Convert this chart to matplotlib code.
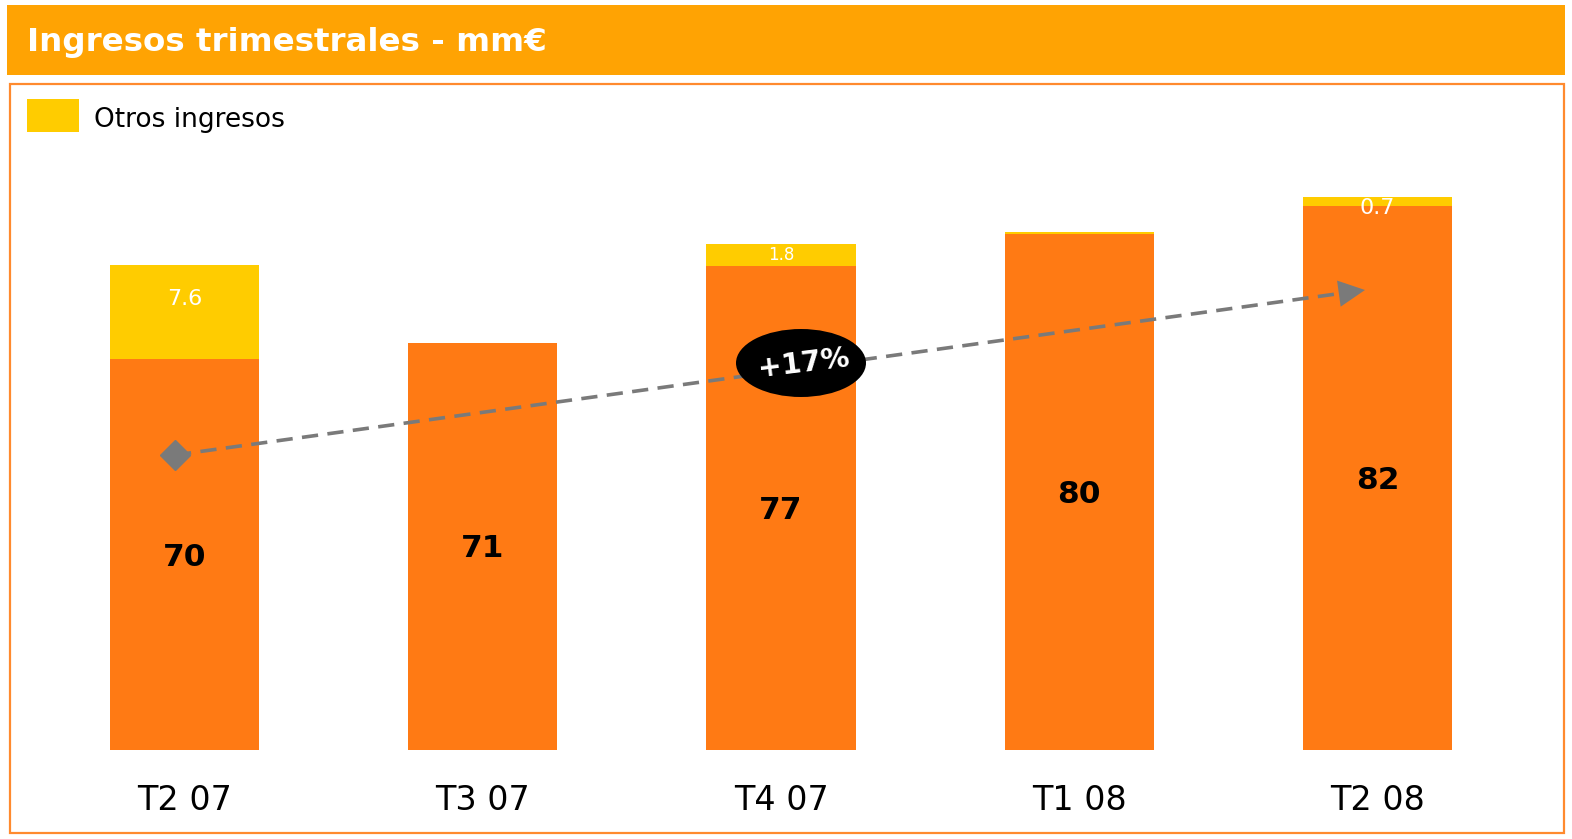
import matplotlib
matplotlib.use("Agg")
import matplotlib.pyplot as plt
from matplotlib.patches import Rectangle, Ellipse

# ---- data ----
categories = ["T2 07", "T3 07", "T4 07", "T1 08", "T2 08"]
core_income = [69.9, 71.2, 77.4, 80.0, 82.3]
core_labels = ["70", "71", "77", "80", "82"]
other_income = [7.6, 0.0, 1.8, 0.2, 0.7]
other_labels = ["7.6", "", "1.8", "", "0.7"]
other_label_sizes = [16, 0, 12, 0, 16]
growth_label = "+17%"
title = "Ingresos trimestrales - mm€"
legend_label = "Otros ingresos"

ORANGE = "#FF7A14"
YELLOW = "#FFCC00"
TITLE_BG = "#FFA303"
BORDER = "#FF8A2E"
GRAY = "#7A7A7A"

W, H = 1572, 839
fig = plt.figure(figsize=(W / 100, H / 100), dpi=100)
fig.patch.set_facecolor("white")

def fx(px):
    return px / W

def fy(py):
    return 1 - py / H

# title bar
fig.patches.append(Rectangle((fx(7), fy(75)), fx(1565) - fx(7), fy(5) - fy(75),
                             transform=fig.transFigure, facecolor=TITLE_BG, edgecolor="none", zorder=0))
fig.text(fx(27), fy(42), title, color="white", fontsize=23.4, fontweight="bold",
         va="center", ha="left", family="DejaVu Sans")
# panel border
fig.patches.append(Rectangle((fx(10), fy(833)), fx(1564) - fx(10), fy(84) - fy(833),
                             transform=fig.transFigure, facecolor="none", edgecolor=BORDER,
                             linewidth=1.6, zorder=0))
# legend
fig.patches.append(Rectangle((fx(27), fy(132)), fx(79) - fx(27), fy(99) - fy(132),
                             transform=fig.transFigure, facecolor=YELLOW, edgecolor="none"))
fig.text(fx(94), fy(120), legend_label, fontsize=19, va="center", ha="left", color="black")

# axes
ax = fig.add_axes([fx(12), fy(750), fx(1562) - fx(12), fy(86) - fy(750)])
ax.set_xlim((12 - 184.5) / 298.25, (1562 - 184.5) / 298.25)
ybase = 38.3
ax.set_ylim(ybase, ybase + (750 - 86) / 12.37)
ax.axis("off")

x = list(range(len(categories)))
ax.bar(x, [c - ybase for c in core_income], bottom=ybase, width=0.5, color=ORANGE, zorder=2)
ax.bar(x, other_income, bottom=core_income, width=0.5, color=YELLOW, zorder=2)

for i in x:
    ax.text(i, (ybase + core_income[i]) / 2 - 0.2, core_labels[i], ha="center", va="center",
            fontsize=22.5, fontweight="bold", color="black", zorder=5)
    if other_labels[i]:
        top = core_income[i] + other_income[i]
        if other_income[i] < 1:
            yy = core_income[i] - 0.15
        elif other_income[i] > 5:
            yy = top - 34 / 12.37
        else:
            yy = core_income[i] + other_income[i] / 2
        ax.text(i, yy, other_labels[i], ha="center", va="center",
                fontsize=other_label_sizes[i], color="white", zorder=5)
    ax.text(i, ybase - 50 / 12.37, categories[i], ha="center", va="center",
            fontsize=24, color="black")

# growth arrow
x0, y0 = (175 - 184.5) / 298.25, ybase + (750 - 455) / 12.37
x1, y1 = (1365 - 184.5) / 298.25, ybase + (750 - 290) / 12.37
xb = x1 - (x1 - x0) * 0.02
yb = y1 - (y1 - y0) * 0.02
ax.plot([x0, xb], [y0, yb], color=GRAY, lw=2.6, dashes=(4.5, 2.6), zorder=3,
        solid_capstyle="butt", dash_capstyle="butt")
ax.plot([x0], [y0], marker="D", color=GRAY, markersize=15, zorder=4)
ax.annotate("", xy=(x1, y1), xytext=(xb, yb),
            arrowprops=dict(arrowstyle="-|>,head_length=1.0,head_width=0.5",
                            color=GRAY, lw=0, mutation_scale=19, shrinkA=0, shrinkB=0),
            zorder=4)

ex, ey = (801 - 184.5) / 298.25, ybase + (750 - 363) / 12.37
ax.add_patch(Ellipse((ex, ey), 130 / 298.25, 68 / 12.37, facecolor="black",
                     edgecolor="none", zorder=6))
ax.text(ex + 0.01, ey, growth_label, ha="center", va="center", color="white",
        fontsize=20.5, fontweight="bold", rotation=7, zorder=7)

fig.savefig("out.png", dpi=100, facecolor="white")
